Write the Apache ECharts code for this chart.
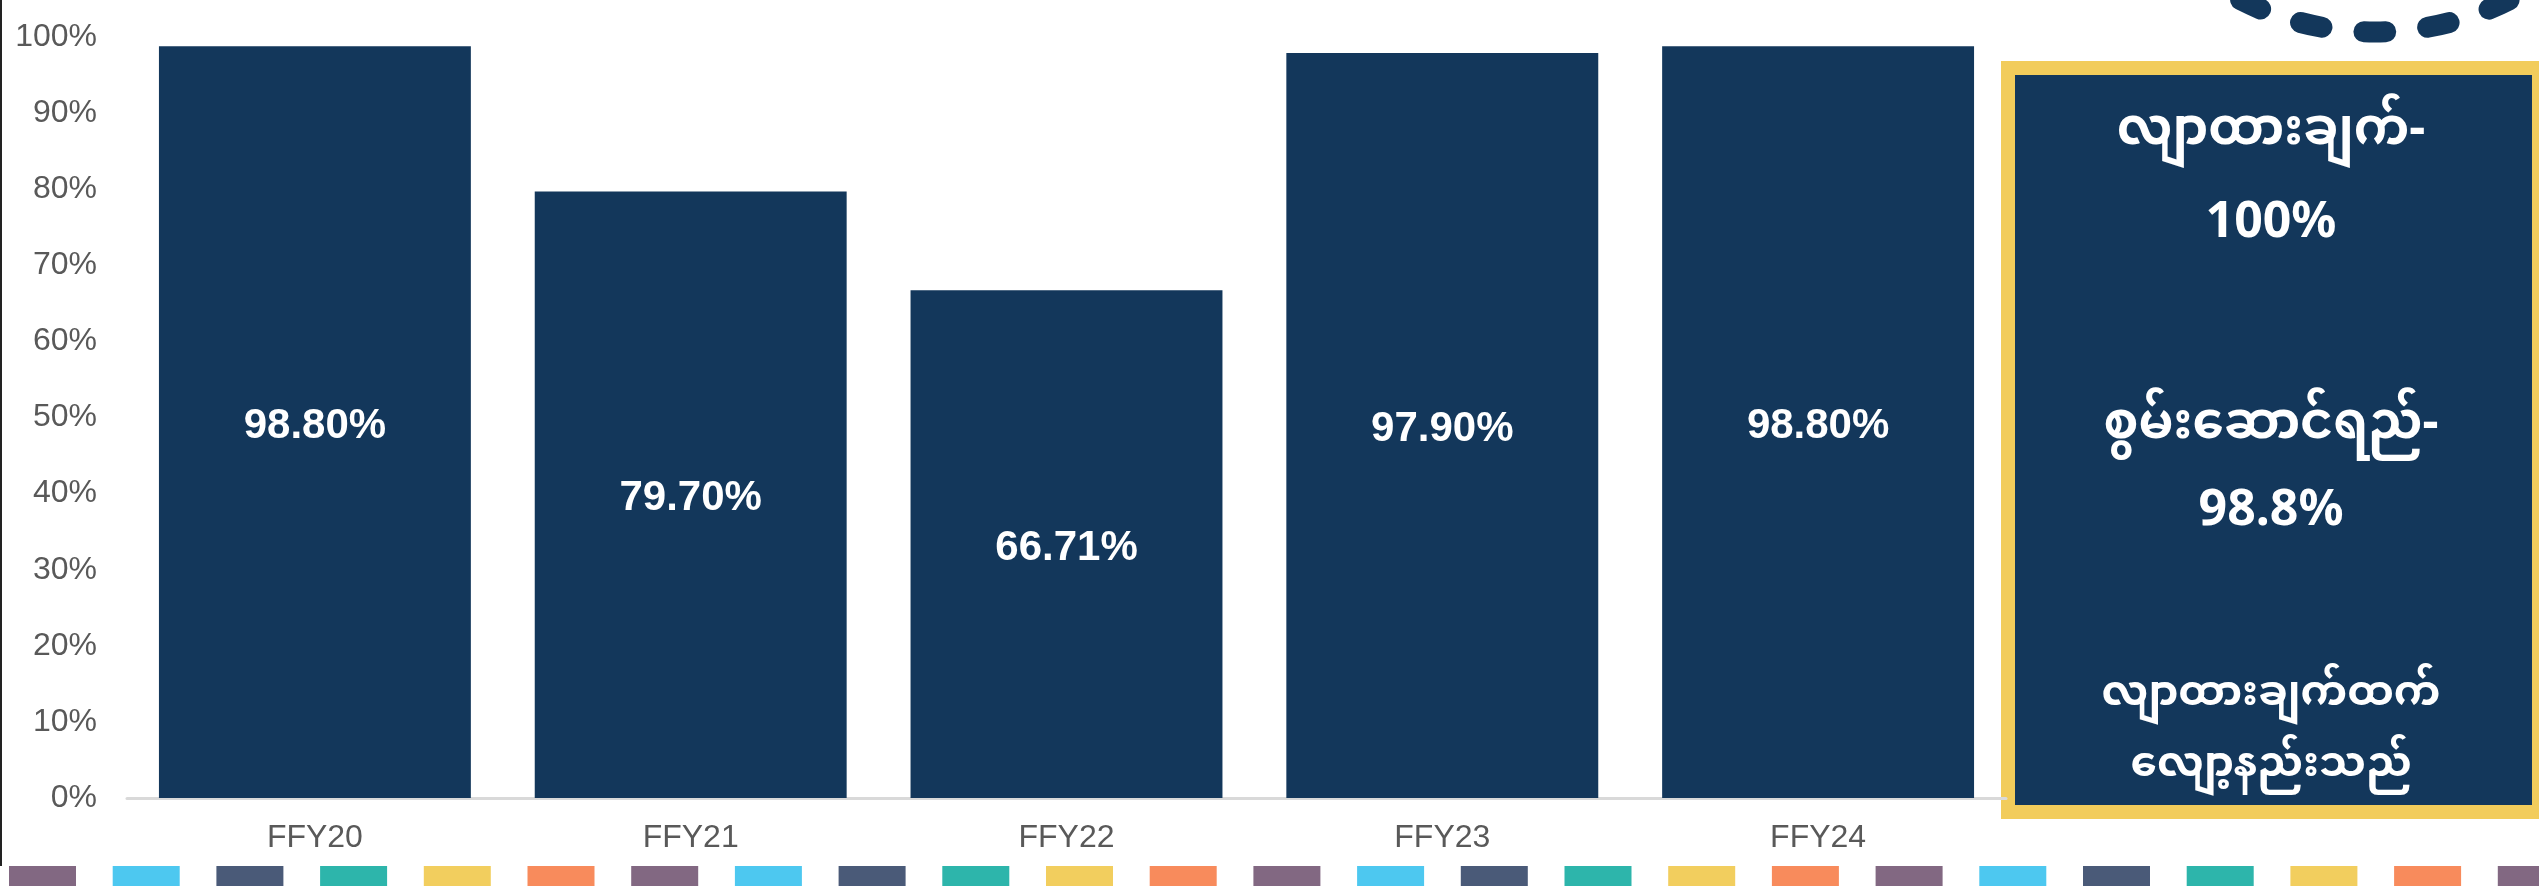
<!DOCTYPE html>
<html>
<head>
<meta charset="utf-8">
<script src="https://cdn.jsdelivr.net/npm/echarts@6/dist/echarts.min.js"></script>
<style>
    html, body { margin: 0; padding: 0; background: #fff; }
    #bar { width: 2539px; height: 886px; }
</style>
</head>
<body>
<div id="bar"></div>
<script>
    // data
    var categories = ['FFY20', 'FFY21', 'FFY22', 'FFY23', 'FFY24'];
    var rates = [0.988, 0.797, 0.6671, 0.979, 0.988];
    var yTicks = [0, 0.1, 0.2, 0.3, 0.4, 0.5, 0.6, 0.7, 0.8, 0.9, 1];
    var boxLines = ['လျာထားချက်-', '100%', 'စွမ်းဆောင်ရည်-', '98.8%', 'လျာထားချက်ထက်', 'လျော့နည်းသည်'];
    var stripColors = ['#826882', '#4dc8f0', '#4a5a78', '#2db5ab', '#f2ce5e', '#f88b5c'];

    var navy = '#13375b';
    var myChart = echarts.init(document.getElementById('bar'));

    // decorations: dashed strip at the bottom
    var graphics = [];
    for (var i = 0; i < 25; i++) {
        graphics.push({
            type: 'rect', z: 1,
            shape: { x: 9 + i * 103.7, y: 866, width: 67, height: 30 },
            style: { fill: stripColors[i % stripColors.length] }
        });
    }
    // left edge line
    graphics.push({ type: 'rect', shape: { x: 0, y: 0, width: 2, height: 866 }, style: { fill: '#222' } });
    // dotted circle top right
    var R = 296, step = 2 * Math.PI * R / 29;
    graphics.push({
        type: 'circle',
        shape: { cx: 2375, cy: -264, r: R },
        style: { fill: null, stroke: navy, lineWidth: 21, lineCap: 'round', lineDash: [22, step - 22], lineDashOffset: -(Math.PI / 2 * R - 11 - 7 * step) }
    });
    // summary box
    graphics.push({ type: 'rect', shape: { x: 2001, y: 61, width: 545, height: 758 }, style: { fill: '#f2cc5b' } });
    graphics.push({ type: 'rect', shape: { x: 2015, y: 75, width: 517, height: 730 }, style: { fill: navy } });
    var lineY = [130, 223, 424, 511, 693, 764];
    var lineSize = [50, 50, 50, 50, 42, 42];
    boxLines.forEach(function (t, k) {
        graphics.push({
            type: 'text', z: 10,
            style: {
                text: t, x: 2271, y: lineY[k], align: 'center', verticalAlign: 'middle',
                fill: '#fff', fontWeight: 'bold', fontSize: lineSize[k],
                fontFamily: '"Noto Sans", "Noto Sans Myanmar", sans-serif'
            }
        });
    });

    var option = {
        animation: false,
        grid: { left: 127, right: 533, top: 37, bottom: 88 },
        xAxis: {
            type: 'category',
            data: categories,
            axisLine: { lineStyle: { color: '#d9d9d9', width: 3 } },
            axisTick: { show: false },
            axisLabel: { color: '#595959', fontSize: 32, fontFamily: 'Liberation Sans, Arial', margin: 24 }
        },
        yAxis: {
            type: 'value',
            min: yTicks[0],
            max: yTicks[yTicks.length - 1],
            interval: 0.1,
            splitLine: { show: false },
            axisLabel: {
                color: '#595959', fontSize: 32, fontFamily: 'Liberation Sans, Arial', margin: 30,
                formatter: function (v) { return Math.round(v * 100) + '%'; }
            }
        },
        series: [
            {
                type: 'bar',
                data: rates,
                barCategoryGap: '17%',
                itemStyle: { color: navy },
                label: {
                    show: true,
                    position: 'inside',
                    offset: [0, 4],
                    color: '#fff',
                    fontSize: 42,
                    fontWeight: 'bold',
                    fontFamily: 'Liberation Sans, Arial',
                    formatter: function (p) { return (p.value * 100).toFixed(2) + '%'; }
                }
            }
        ],
        graphic: graphics
    };

    myChart.setOption(option);
</script>
</body>
</html>
